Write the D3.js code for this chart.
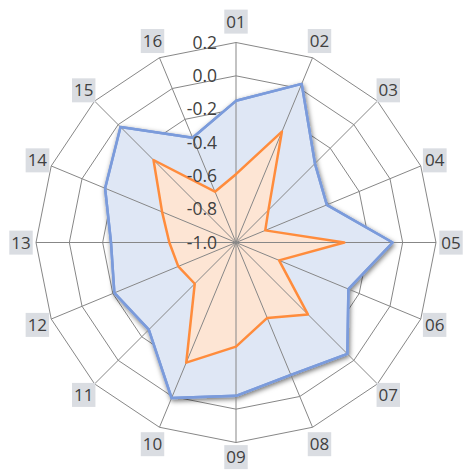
<!DOCTYPE html>
<html>
<head>
<meta charset="utf-8">
<script src="https://cdn.jsdelivr.net/npm/d3@7"></script>
<style>
  body { margin: 0; background: #fff; }
  svg { display: block; font-family: "Open Sans", "Noto Sans", sans-serif; }
</style>
</head>
<body>
<svg id="radar" width="465" height="470"></svg>
<script>
// categories round the chart, clockwise from the top
const categories = ["01", "02", "03", "04", "05", "06", "07", "08",
                    "09", "10", "11", "12", "13", "14", "15", "16"];
// blue series (outer)
const seriesBlue = [-0.15, 0.03, -0.33, -0.41, -0.06, -0.27, -0.055, -0.14,
                    -0.08, 0.01, -0.26, -0.21, -0.25, -0.15, -0.02, -0.32];
// orange series (inner)
const seriesOrange = [-0.59, -0.28, -0.725, -0.81, -0.35, -0.72, -0.39, -0.51,
                      -0.375, -0.22, -0.65, -0.625, -0.6, -0.52, -0.3, -0.67];
// radial axis ticks
const ticks = [-1.0, -0.8, -0.6, -0.4, -0.2, 0.0, 0.2];

const cx = 236, cy = 242.5, radius = 200;
const gridColor = "#878787";
const textColor = "#404040";

const svg = d3.select("#radar");
const g = svg.append("g").attr("transform", `translate(${cx},${cy})`);

// scales
const r = d3.scaleLinear().domain([-1.0, 0.2]).range([0, radius]);
const angle = d3.scaleLinear().domain([0, categories.length]).range([0, 2 * Math.PI]);

function point(i, v) {
    const a = angle(i);
    return [Math.sin(a) * r(v), -Math.cos(a) * r(v)];
}

// drop shadow for the blue series
const defs = svg.append("defs");
defs.append("filter")
    .attr("id", "shadow")
    .attr("x", "-20%").attr("y", "-20%")
    .attr("width", "140%").attr("height", "140%")
    .append("feDropShadow")
    .attr("dx", 1)
    .attr("dy", 2)
    .attr("stdDeviation", 2.5)
    .attr("flood-color", "#000")
    .attr("flood-opacity", 0.55);

// rings (polygons)
const ringLine = d3.lineRadial()
    .angle((d, i) => angle(i))
    .radius(d => r(d))
    .curve(d3.curveLinearClosed);

g.selectAll(".ring")
    .data(ticks.slice(1))
    .enter()
    .append("path")
    .attr("class", "ring")
    .attr("d", t => ringLine(categories.map(() => t)))
    .attr("fill", "none")
    .attr("stroke", gridColor)
    .attr("stroke-width", 1);

const seriesLine = d3.lineRadial()
    .angle((d, i) => angle(i))
    .radius(d => r(d))
    .curve(d3.curveLinearClosed);

// filled areas
g.append("path")
    .attr("d", seriesLine(seriesBlue))
    .attr("fill", "#DFE7F5")
    .attr("stroke", "#7B9BDB")
    .attr("stroke-width", 2.5)
    .attr("stroke-linejoin", "round")
    .attr("filter", "url(#shadow)");

g.append("path")
    .attr("d", seriesLine(seriesOrange))
    .attr("fill", "#FDE5D4");

// spokes
g.selectAll(".spoke")
    .data(categories)
    .enter()
    .append("line")
    .attr("class", "spoke")
    .attr("x1", 0).attr("y1", 0)
    .attr("x2", (d, i) => point(i, 0.2)[0])
    .attr("y2", (d, i) => point(i, 0.2)[1])
    .attr("stroke", gridColor)
    .attr("stroke-width", 1);

// series lines on top
g.append("path")
    .attr("d", seriesLine(seriesBlue))
    .attr("fill", "none")
    .attr("stroke", "#7B9BDB")
    .attr("stroke-width", 2.5)
    .attr("stroke-linejoin", "round");

g.append("path")
    .attr("d", seriesLine(seriesOrange))
    .attr("fill", "none")
    .attr("stroke", "#FF8C3C")
    .attr("stroke-width", 2.5)
    .attr("stroke-linejoin", "round");

// tick labels along the top spoke
g.selectAll(".tick")
    .data(ticks)
    .enter()
    .append("text")
    .attr("class", "tick")
    .attr("x", -19)
    .attr("y", d => -r(d))
    .attr("dy", "0.36em")
    .attr("text-anchor", "end")
    .attr("font-size", "17.5px")
    .attr("fill", textColor)
    .text(d => d.toFixed(1));

// category labels with grey boxes
const labels = g.selectAll(".cat")
    .data(categories)
    .enter()
    .append("g")
    .attr("class", "cat")
    .attr("transform", (d, i) => {
        const a = angle(i);
        const lr = radius + 15 + 6 * Math.pow(Math.cos(a), 8);
        const y = Math.min(-Math.cos(a) * lr, 470 - cy - 13);
        return `translate(${Math.sin(a) * lr},${y})`;
    });

labels.append("text")
    .attr("text-anchor", "middle")
    .attr("dy", "0.36em")
    .attr("font-size", "17px")
    .attr("fill", textColor)
    .text(d => d);

labels.each(function() {
    const grp = d3.select(this);
    const bb = grp.select("text").node().getBBox();
    grp.insert("rect", "text")
        .attr("x", bb.x - 2)
        .attr("y", bb.y)
        .attr("width", bb.width + 4)
        .attr("height", bb.height + 1)
        .attr("fill", "#DADDE2");
});
</script>
</body>
</html>
